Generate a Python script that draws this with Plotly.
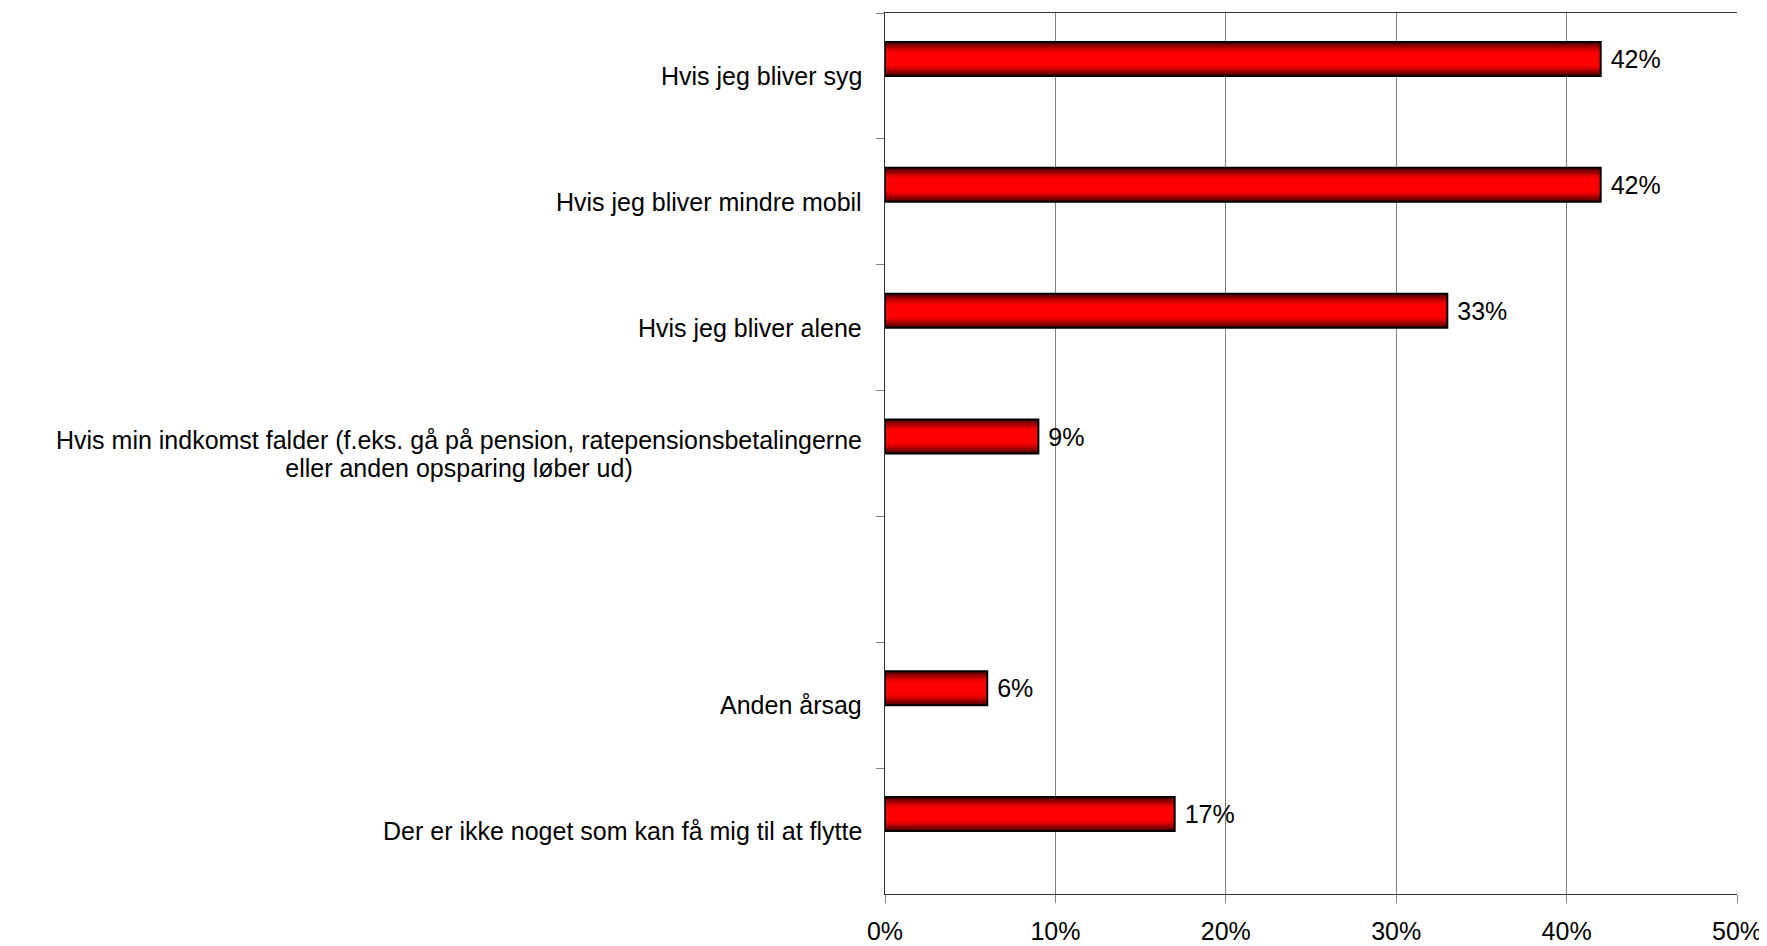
import plotly.graph_objects as go

# ---- data ----
categories = [
    "Hvis jeg bliver syg",
    "Hvis jeg bliver mindre mobil",
    "Hvis jeg bliver alene",
    "Hvis min indkomst falder (f.eks. gå på pension, ratepensionsbetalingerne<br>eller anden opsparing løber ud)",
    " ",
    "Anden årsag",
    "Der er ikke noget som kan få mig til at flytte",
]
values = [42, 42, 33, 9, None, 6, 17]
x_ticks = [0, 10, 20, 30, 40, 50]
x_tick_labels = ["0%", "10%", "20%", "30%", "40%", "50%"]

# ---- style ----
FONT = "Liberation Sans, Arial, sans-serif"
FS = 25
BAR_W = 0.27
# gradient layers: (fraction of bar thickness, colour) from edge to centre
layers = [
    (1.00, "#560000"),
    (0.90, "#760000"),
    (0.80, "#980000"),
    (0.70, "#b80000"),
    (0.60, "#d60000"),
    (0.50, "#ee0000"),
    (0.38, "#ff0000"),
]

fig = go.Figure()
# bars sit in the upper half of each category slot (as in the original)
for frac, col in layers:
    w = BAR_W * frac
    fig.add_trace(go.Bar(
        y=categories, x=values, orientation="h",
        width=w, offset=-(BAR_W + w) / 2,
        marker=dict(color=col, line=dict(width=0)),
        hoverinfo="skip", showlegend=False,
    ))

text = [f" {v}%" if v is not None else "" for v in values]
fig.add_trace(go.Bar(
    y=categories, x=values, orientation="h",
    width=BAR_W, offset=-BAR_W,
    marker=dict(color="rgba(0,0,0,0)", line=dict(color="black", width=2)),
    text=text, textposition="outside", constraintext="none",
    textfont=dict(family=FONT, size=FS, color="black"),
    cliponaxis=False, showlegend=False,
))

# category labels (centred multi-line text like the original)
for cat in categories:
    if not cat.strip():
        continue
    lines = cat.split("<br>")
    label = "<br>".join(f'<span style="font-size:{FS}px">{ln}</span>' for ln in lines)
    fig.add_annotation(
        x=0, xref="paper", y=cat, yref="y",
        text=label, showarrow=False,
        xanchor="right", yanchor="middle", align="center",
        xshift=-21,
        font=dict(family=FONT, size=21.5, color="black"),
    )

# the page has an 8px body margin, so the figure is sized to fit the window
fig.update_layout(
    width=1759, height=938,
    margin=dict(l=877, r=30, t=5, b=52),
    paper_bgcolor="white", plot_bgcolor="white",
    barmode="overlay",
    font=dict(family=FONT, size=FS, color="black"),
)
fig.update_xaxes(
    range=[0, 50], tickvals=x_ticks, ticktext=x_tick_labels,
    showgrid=True, gridcolor="#808080", gridwidth=1,
    showline=True, linecolor="#303030", linewidth=1, mirror=True,
    ticks="outside", ticklen=8, tickcolor="#808080",
    ticklabelstandoff=7, automargin=False,
    tickfont=dict(family=FONT, size=FS, color="black"),
    zeroline=False,
)
fig.update_yaxes(
    categoryorder="array", categoryarray=categories, autorange="reversed",
    tickson="boundaries", ticks="outside", ticklen=8, tickcolor="#808080",
    showticklabels=False, showgrid=False, automargin=False,
    showline=True, linecolor="#303030", linewidth=1,
    zeroline=False,
)

fig.write_html("out.html")
